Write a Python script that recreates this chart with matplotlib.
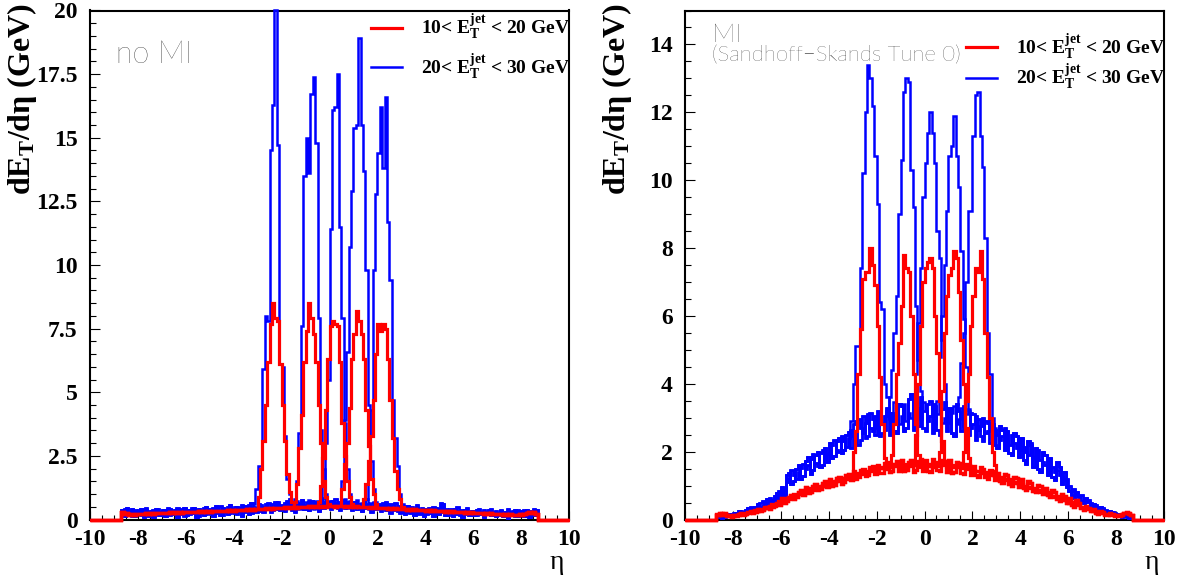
import numpy as np
import matplotlib
matplotlib.use('Agg')
import matplotlib.pyplot as plt
from matplotlib.lines import Line2D
from matplotlib.ticker import MultipleLocator, FormatStrFormatter

plt.rcParams['font.family'] = 'Liberation Serif'
plt.rcParams['font.weight'] = 'bold'
plt.rcParams['mathtext.fontset'] = 'custom'
plt.rcParams['mathtext.rm'] = 'Liberation Serif:bold'
plt.rcParams['mathtext.bf'] = 'Liberation Serif:bold'
plt.rcParams['mathtext.it'] = 'Liberation Serif:italic:bold'
plt.rcParams['axes.unicode_minus'] = False

# 200 bins of 0.1 in eta, filled between -8.7 and 8.7
eta_edges = np.linspace(-10, 10, 201)

# ---------------- no MI ----------------
# underlying level, bins -8.7 ... 8.6
nomi_red_base = [
    0.30, 0.22, 0.26, 0.18, 0.22, 0.19, 0.21,
    0.20, 0.23, 0.21, 0.24, 0.22, 0.25, 0.23, 0.26, 0.24, 0.26,
    0.25, 0.27, 0.25, 0.28, 0.26, 0.28, 0.27, 0.29, 0.27, 0.30,
    0.28, 0.30, 0.29, 0.31, 0.29, 0.32, 0.30, 0.32, 0.31, 0.33,
    0.31, 0.34, 0.32, 0.35, 0.33, 0.35, 0.34, 0.36, 0.34, 0.37,
    0.35, 0.38, 0.36, 0.39, 0.37, 0.40, 0.38, 0.41, 0.39, 0.42,
    0.40, 0.43, 0.41, 0.44, 0.42, 0.45, 0.43, 0.46, 0.44, 0.46,
    0.45, 0.48, 0.46, 0.49, 0.47, 0.50, 0.47, 0.50, 0.48, 0.51,
    0.49, 0.52, 0.50, 0.53, 0.50, 0.53, 0.51, 0.54, 0.51, 0.53,
    0.52, 0.54, 0.51, 0.53, 0.52, 0.54, 0.50, 0.53, 0.51, 0.52,
    0.50, 0.52, 0.49, 0.51, 0.48, 0.50, 0.47, 0.49, 0.46, 0.48,
    0.45, 0.47, 0.44, 0.46, 0.43, 0.45, 0.42, 0.44, 0.41, 0.43,
    0.40, 0.42, 0.39, 0.41, 0.38, 0.40, 0.37, 0.39, 0.36, 0.38,
    0.35, 0.37, 0.34, 0.36, 0.33, 0.35, 0.32, 0.34, 0.31, 0.33,
    0.30, 0.32, 0.29, 0.31, 0.28, 0.30, 0.27, 0.29, 0.26, 0.28,
    0.25, 0.27, 0.24, 0.26, 0.23, 0.25, 0.22, 0.24, 0.21, 0.23,
    0.20, 0.22, 0.19, 0.21, 0.18, 0.20, 0.17, 0.19, 0.18, 0.20,
    0.19, 0.22, 0.26, 0.30, 0.24, 0.28, 0.20,
]
nomi_blue_base = [
    0.38, 0.15, 0.44, 0.22, 0.40, 0.12, 0.35,
    0.20, 0.42, 0.10, 0.36, 0.24, 0.32, 0.08, 0.40, 0.26, 0.18,
    0.36, 0.14, 0.30, 0.42, 0.20, 0.38, 0.10, 0.34, 0.28, 0.44,
    0.16, 0.36, 0.26, 0.46, 0.08, 0.40, 0.30, 0.18, 0.48, 0.24,
    0.38, 0.12, 0.52, 0.30, 0.16, 0.44, 0.34, 0.20, 0.58, 0.28,
    0.26, 0.50, 0.34, 0.12, 0.54, 0.40, 0.22, 0.64, 0.32, 0.46,
    0.40, 0.56, 0.28, 0.62, 0.45, 0.30, 0.60, 0.42, 0.68, 0.36,
    0.52, 0.34, 0.72, 0.44, 0.62, 0.30, 0.66, 0.48, 0.76, 0.40,
    0.58, 0.38, 0.74, 0.46, 0.64, 0.32, 0.82, 0.44, 0.68, 0.50,
    0.42, 0.72, 0.48, 0.64, 0.36, 0.78, 0.44, 0.68, 0.52, 0.38,
    0.70, 0.42, 0.60, 0.34, 0.74, 0.46, 0.62, 0.30, 0.56, 0.40,
    0.50, 0.32, 0.64, 0.38, 0.48, 0.26, 0.58, 0.36, 0.44, 0.24,
    0.42, 0.20, 0.52, 0.30, 0.38, 0.16, 0.46, 0.28, 0.36, 0.14,
    0.40, 0.24, 0.34, 0.12, 0.46, 0.22, 0.32, 0.62, 0.18, 0.30,
    0.30, 0.14, 0.42, 0.22, 0.34, 0.10, 0.38, 0.24, 0.16, 0.32,
    0.18, 0.36, 0.22, 0.30, 0.08, 0.28, 0.38, 0.16, 0.30, 0.12,
    0.26, 0.34, 0.14, 0.28, 0.06, 0.30, 0.18, 0.36, 0.12, 0.24,
    0.32, 0.14, 0.38, 0.10, 0.30, 0.16, 0.36,
]
nomi_blue_base_b = [
    0.22, 0.40, 0.18, 0.30, 0.14, 0.36, 0.26,
    0.38, 0.16, 0.30, 0.44, 0.12, 0.28, 0.36, 0.18, 0.42, 0.30,
    0.20, 0.38, 0.46, 0.16, 0.32, 0.24, 0.44, 0.20, 0.40, 0.14,
    0.34, 0.22, 0.44, 0.30, 0.38, 0.14, 0.26, 0.46, 0.22, 0.40,
    0.20, 0.46, 0.26, 0.40, 0.54, 0.18, 0.30, 0.50, 0.24, 0.42,
    0.48, 0.20, 0.44, 0.56, 0.28, 0.36, 0.58, 0.26, 0.50, 0.30,
    0.62, 0.34, 0.50, 0.40, 0.66, 0.52, 0.36, 0.70, 0.48, 0.58,
    0.40, 0.66, 0.50, 0.80, 0.38, 0.56, 0.74, 0.42, 0.60, 0.70,
    0.46, 0.78, 0.54, 0.40, 0.72, 0.60, 0.48, 0.86, 0.52, 0.64,
    0.74, 0.50, 0.82, 0.44, 0.70, 0.56, 0.80, 0.46, 0.74, 0.60,
    0.48, 0.76, 0.44, 0.66, 0.52, 0.80, 0.40, 0.64, 0.70, 0.46,
    0.62, 0.44, 0.52, 0.70, 0.36, 0.60, 0.46, 0.64, 0.34, 0.52,
    0.30, 0.54, 0.40, 0.26, 0.50, 0.36, 0.56, 0.22, 0.44, 0.38,
    0.22, 0.44, 0.30, 0.50, 0.20, 0.40, 0.64, 0.28, 0.42, 0.18,
    0.40, 0.26, 0.32, 0.48, 0.16, 0.36, 0.20, 0.44, 0.30, 0.22,
    0.34, 0.16, 0.40, 0.26, 0.36, 0.20, 0.30, 0.42, 0.18, 0.34,
    0.16, 0.38, 0.26, 0.20, 0.40, 0.18, 0.32, 0.14, 0.36, 0.28,
    0.20, 0.38, 0.16, 0.34, 0.22, 0.40, 0.18,
]
# jet peaks: first bin low edge and bin contents
nomi_red_starts = [-3.0, -1.5, -0.5, 0.5, 1.4]
nomi_red_peaks = [
    [0.9, 2.0, 3.1, 4.5, 6.2, 7.7, 8.5, 7.9, 7.8, 6.1, 4.5, 3.1, 1.8, 1.1, 0.7, 0.5],
    [0.7, 1.4, 2.8, 4.1, 6.2, 7.4, 8.5, 7.9, 7.3, 6.2, 4.5, 3.0, 1.5, 0.9, 0.6],
    [0.7, 1.3, 2.4, 4.3, 6.3, 7.6, 7.8, 7.7, 7.6, 6.2, 3.8, 2.5, 1.5, 0.9, 0.6],
    [1.2, 2.2, 3.0, 4.4, 6.3, 7.3, 8.2, 7.8, 7.3, 6.3, 4.3, 2.9, 1.6, 1.0, 0.6],
    [0.8, 1.4, 2.3, 3.3, 4.7, 6.5, 7.7, 7.4, 7.7, 7.5, 6.3, 4.7, 3.2, 1.9, 1.2, 0.8, 0.5],
]
nomi_blue_starts = [-3.2, -1.5, -0.4, 0.5, 1.5]
nomi_blue_peaks = [
    [0.6, 1.2, 2.1, 2.1, 5.9, 8.0, 7.8, 14.5, 16.3, 20.0, 14.7, 6.1, 6.0, 3.3, 1.6, 1.0, 0.7, 0.5],
    [0.8, 1.5, 3.4, 7.6, 13.5, 15.0, 13.6, 16.7, 17.4, 14.8, 7.9, 3.5, 2.0, 1.0, 0.7],
    [0.8, 1.5, 3.0, 5.5, 11.4, 16.1, 16.2, 17.5, 11.5, 7.9, 3.8, 2.0, 1.0, 0.6],
    [1.5, 3.9, 6.6, 10.7, 12.9, 15.4, 15.5, 18.9, 15.5, 13.7, 9.8, 4.5, 2.3, 1.2, 0.7],
    [0.8, 1.6, 4.3, 9.8, 12.8, 14.4, 16.2, 13.8, 16.6, 11.7, 9.4, 4.7, 3.2, 2.1, 1.0, 0.6],
]

# ---------------- MI ----------------
mi_red_base = [
    0.12, 0.18, 0.14, 0.20, 0.12, 0.10, 0.08,
    0.12, 0.10, 0.15, 0.18, 0.13, 0.15, 0.21, 0.25, 0.18, 0.21,
    0.30, 0.24, 0.28, 0.34, 0.38, 0.32, 0.36, 0.44, 0.50, 0.42,
    0.62, 0.48, 0.54, 0.66, 0.72, 0.60, 0.66, 0.80, 0.86, 0.72,
    0.95, 0.78, 0.82, 0.98, 1.04, 0.86, 0.90, 1.08, 1.12, 0.95,
    1.18, 0.98, 1.02, 1.22, 1.26, 1.06, 1.10, 1.30, 1.34, 1.15,
    1.42, 1.20, 1.24, 1.46, 1.50, 1.28, 1.30, 1.55, 1.58, 1.34,
    1.62, 1.36, 1.38, 1.66, 1.70, 1.40, 1.42, 1.65, 1.72, 1.44,
    1.74, 1.42, 1.45, 1.70, 1.76, 1.40, 1.46, 1.72, 1.78, 1.44,
    1.75, 1.42, 1.40, 1.78, 1.70, 1.45, 1.42, 1.74, 1.72, 1.40,
    1.74, 1.38, 1.40, 1.70, 1.66, 1.36, 1.34, 1.64, 1.62, 1.32,
    1.58, 1.30, 1.26, 1.55, 1.50, 1.24, 1.20, 1.46, 1.42, 1.16,
    1.38, 1.12, 1.08, 1.34, 1.30, 1.04, 1.00, 1.26, 1.22, 0.96,
    1.18, 0.92, 0.88, 1.14, 1.08, 0.84, 0.80, 1.02, 0.98, 0.76,
    0.94, 0.72, 0.66, 0.88, 0.82, 0.60, 0.54, 0.76, 0.70, 0.48,
    0.64, 0.44, 0.38, 0.56, 0.48, 0.33, 0.28, 0.40, 0.34, 0.24,
    0.30, 0.20, 0.17, 0.26, 0.22, 0.14, 0.12, 0.18, 0.15, 0.10,
    0.12, 0.10, 0.14, 0.18, 0.22, 0.18, 0.14,
]
mi_red_base_b = [
    0.16, 0.12, 0.18, 0.15, 0.10, 0.13, 0.10,
    0.10, 0.14, 0.12, 0.16, 0.17, 0.20, 0.18, 0.22, 0.24, 0.27,
    0.26, 0.32, 0.30, 0.36, 0.34, 0.40, 0.46, 0.40, 0.46, 0.55,
    0.52, 0.58, 0.64, 0.60, 0.66, 0.74, 0.70, 0.76, 0.78, 0.84,
    0.84, 0.90, 0.92, 0.88, 0.96, 1.00, 0.96, 1.02, 1.00, 1.06,
    1.06, 1.12, 1.10, 1.16, 1.12, 1.20, 1.22, 1.18, 1.24, 1.28,
    1.30, 1.32, 1.36, 1.34, 1.40, 1.42, 1.38, 1.44, 1.46, 1.48,
    1.48, 1.52, 1.56, 1.50, 1.56, 1.60, 1.54, 1.58, 1.62, 1.56,
    1.60, 1.64, 1.56, 1.62, 1.58, 1.66, 1.60, 1.56, 1.64, 1.60,
    1.62, 1.58, 1.64, 1.56, 1.62, 1.66, 1.58, 1.60, 1.64, 1.56,
    1.60, 1.56, 1.62, 1.54, 1.58, 1.52, 1.56, 1.50, 1.52, 1.48,
    1.46, 1.44, 1.42, 1.40, 1.38, 1.40, 1.34, 1.32, 1.34, 1.28,
    1.26, 1.24, 1.22, 1.20, 1.16, 1.18, 1.12, 1.10, 1.08, 1.06,
    1.04, 1.00, 0.98, 0.96, 0.92, 0.94, 0.88, 0.86, 0.82, 0.80,
    0.78, 0.80, 0.72, 0.70, 0.66, 0.68, 0.62, 0.60, 0.56, 0.54,
    0.50, 0.52, 0.46, 0.42, 0.44, 0.38, 0.36, 0.34, 0.30, 0.28,
    0.26, 0.24, 0.22, 0.20, 0.19, 0.17, 0.16, 0.14, 0.13, 0.12,
    0.12, 0.13, 0.16, 0.20, 0.18, 0.15, 0.12,
]
mi_blue_base = [
    0.08, 0.12, 0.05, 0.10, 0.14, 0.09, 0.16,
    0.13, 0.20, 0.24, 0.16, 0.19, 0.28, 0.33, 0.23, 0.27, 0.38,
    0.46, 0.35, 0.40, 0.52, 0.60, 0.45, 0.52, 0.68, 0.78, 0.60,
    0.95, 0.72, 1.30, 1.38, 1.05, 1.12, 1.48, 1.60, 1.20, 1.28,
    1.72, 1.85, 1.35, 1.45, 1.90, 2.00, 1.55, 1.62, 2.10, 1.70,
    2.25, 1.80, 1.88, 2.30, 2.40, 1.95, 2.05, 2.50, 2.58, 2.10,
    2.80, 2.90, 2.20, 2.35, 3.05, 2.40, 2.45, 3.15, 2.95, 2.50,
    3.20, 2.45, 2.55, 3.05, 3.30, 2.50, 3.15, 2.60, 2.55, 3.40,
    3.35, 2.60, 2.70, 3.55, 3.70, 2.65, 3.45, 2.75, 3.60, 2.70,
    2.60, 3.40, 3.50, 2.55, 3.35, 2.65, 2.50, 3.25, 3.45, 2.60,
    3.30, 2.55, 2.45, 3.40, 3.20, 2.60, 3.35, 2.40, 2.50, 3.15,
    3.10, 2.35, 2.95, 2.45, 2.30, 2.90, 2.85, 2.25, 2.80, 2.20,
    2.10, 2.75, 2.65, 2.05, 2.60, 1.95, 1.90, 2.55, 2.45, 1.85,
    2.40, 1.75, 1.65, 2.30, 2.20, 1.55, 2.10, 1.50, 1.40, 2.00,
    1.90, 1.30, 1.80, 1.25, 1.15, 1.70, 1.55, 1.05, 1.40, 0.95,
    0.85, 0.72, 0.62, 0.80, 0.70, 0.55, 0.48, 0.62, 0.52, 0.42,
    0.45, 0.33, 0.28, 0.38, 0.32, 0.24, 0.19, 0.26, 0.22, 0.15,
    0.16, 0.10, 0.07, 0.13, 0.11, 0.05, 0.08,
]
mi_blue_base_b = [
    0.12, 0.06, 0.14, 0.08, 0.10, 0.16, 0.12,
    0.18, 0.14, 0.17, 0.26, 0.22, 0.20, 0.25, 0.36, 0.30, 0.28,
    0.38, 0.48, 0.55, 0.42, 0.48, 0.62, 0.58, 0.55, 0.70, 0.85,
    0.78, 0.88, 1.10, 1.22, 1.45, 1.30, 1.18, 1.40, 1.52, 1.65,
    1.48, 1.60, 1.78, 1.92, 1.66, 1.58, 1.95, 2.05, 1.75, 1.92,
    1.95, 2.20, 2.35, 2.05, 2.00, 2.45, 2.30, 2.15, 2.40, 2.65,
    2.45, 2.60, 2.95, 2.70, 2.55, 2.85, 3.10, 2.70, 2.60, 3.05,
    2.70, 3.10, 2.85, 2.65, 3.20, 2.95, 2.75, 3.45, 3.00, 2.80,
    3.05, 3.40, 2.90, 3.15, 3.00, 3.50, 2.85, 3.30, 2.95, 3.45,
    3.20, 2.90, 3.05, 3.40, 2.80, 3.10, 3.55, 2.85, 3.00, 3.30,
    2.85, 3.15, 3.35, 2.80, 2.95, 3.30, 2.75, 3.10, 3.25, 2.70,
    2.80, 3.05, 2.65, 2.75, 3.00, 2.55, 2.60, 2.95, 2.50, 2.65,
    2.50, 2.35, 2.45, 2.70, 2.30, 2.20, 2.50, 2.25, 2.10, 2.35,
    2.05, 2.15, 2.00, 1.90, 2.25, 1.85, 1.80, 2.05, 1.75, 1.70,
    1.60, 1.65, 1.50, 1.55, 1.40, 1.45, 1.30, 1.25, 1.15, 1.20,
    1.00, 0.82, 0.90, 0.75, 0.66, 0.72, 0.60, 0.55, 0.58, 0.48,
    0.38, 0.42, 0.36, 0.30, 0.34, 0.28, 0.24, 0.22, 0.18, 0.20,
    0.12, 0.14, 0.10, 0.09, 0.06, 0.10, 0.05,
]
mi_red_starts = [-3.0, -1.5, -0.5, 0.5, 1.5]
mi_red_peaks = [
    [2.0, 2.6, 4.3, 5.6, 7.1, 7.3, 7.3, 8.0, 7.5, 6.9, 5.7, 4.2, 2.8, 1.8, 1.6],
    [1.6, 1.9, 2.8, 4.3, 5.2, 6.3, 7.8, 7.4, 7.3, 6.0, 4.3, 2.8, 1.9, 1.6],
    [1.6, 2.5, 4.0, 5.7, 7.0, 7.4, 7.6, 7.7, 7.4, 6.0, 4.9, 3.5, 2.3, 1.7],
    [1.6, 2.0, 3.8, 5.5, 6.6, 7.2, 7.4, 7.9, 7.7, 6.7, 5.3, 4.0, 2.7, 1.8, 1.5],
    [1.6, 2.0, 3.5, 4.3, 5.7, 6.6, 7.4, 7.3, 7.9, 7.1, 5.5, 4.2, 3.0, 2.0, 1.6],
]
mi_blue_starts = [-3.1, -1.5, -0.5, 0.4, 1.4]
mi_blue_peaks = [
    [2.9, 4.0, 5.1, 5.1, 7.4, 10.2, 12.0, 13.4, 13.0, 12.2, 10.7, 9.3, 6.4, 6.2, 4.0, 3.6, 3.0],
    [3.6, 4.4, 5.5, 6.6, 9.0, 10.6, 12.6, 13.0, 12.9, 10.3, 9.2, 6.3, 4.7, 3.8, 3.2],
    [3.5, 4.3, 5.8, 7.4, 9.5, 10.5, 11.4, 12.0, 11.4, 10.5, 8.5, 7.7, 5.3, 4.0, 3.2],
    [3.0, 3.5, 4.8, 6.0, 7.5, 9.1, 10.7, 11.0, 11.9, 10.7, 9.8, 7.9, 5.9, 4.5, 3.2],
    [3.6, 4.6, 5.5, 7.0, 9.1, 9.1, 11.3, 12.5, 12.6, 11.3, 10.4, 8.3, 5.5, 4.3, 3.0, 2.7],
]

legend_labels = ['10< E$_\\mathbf{T}^\\mathbf{jet}$ < 20 GeV',
                 '20< E$_\\mathbf{T}^\\mathbf{jet}$ < 30 GeV']


def build(base, start, peak):
    h = np.zeros(200)
    h[13:187] = base
    i0 = int(round((start + 10) * 10))
    h[i0:i0 + len(peak)] = peak
    return h


def draw_panel(ax, red_bases, red_starts, red_peaks, blue_bases, blue_starts, blue_peaks,
               ymax, ymajor, leg_y, leg_space):
    for b, s, p in zip(blue_bases, blue_starts, blue_peaks):
        ax.stairs(build(b, s, p), eta_edges, color='blue', lw=1.8,
                  baseline=None, clip_on=False, zorder=3)
    for b, s, p in zip(red_bases, red_starts, red_peaks):
        ax.stairs(build(b, s, p), eta_edges, color='red', lw=2.3,
                  baseline=None, clip_on=False, zorder=4)
    ax.set_xlim(-10, 10)
    ax.set_ylim(0, ymax)
    ax.xaxis.set_major_locator(MultipleLocator(2))
    ax.xaxis.set_minor_locator(MultipleLocator(0.5))
    ax.yaxis.set_major_locator(MultipleLocator(ymajor))
    ax.yaxis.set_minor_locator(MultipleLocator(0.5))
    ax.xaxis.set_major_formatter(FormatStrFormatter('%g'))
    ax.yaxis.set_major_formatter(FormatStrFormatter('%g'))
    ax.tick_params(which='both', direction='in', top=False, right=False, width=0.8, labelsize=17)
    ax.tick_params(axis='y', which='major', length=7.2, pad=9)
    ax.tick_params(axis='y', which='minor', length=4.3)
    ax.tick_params(axis='x', which='major', length=6.5, pad=7)
    ax.tick_params(axis='x', which='minor', length=3.5)
    for sp in ax.spines.values():
        sp.set_linewidth(1.5)
    ax.text(-0.141, 1.015, 'dE$_\\mathbf{T}$/dη (GeV)', transform=ax.transAxes,
            rotation=90, ha='center', va='top', fontsize=23)
    ax.text(0.99, -0.098, 'η', transform=ax.transAxes, ha='right', va='baseline',
            fontsize=20, fontweight='normal')
    handles = [Line2D([], [], color='red', lw=2.3), Line2D([], [], color='blue', lw=1.8)]
    ax.legend(handles, legend_labels, loc='upper left', bbox_to_anchor=(0.587, leg_y),
              frameon=False, handlelength=1.6, handletextpad=0.95, labelspacing=leg_space,
              borderpad=0, borderaxespad=0, prop={'size': 14, 'weight': 'bold'})


fig = plt.figure(figsize=(11.96, 5.76), dpi=100)
ax1 = fig.add_axes([90 / 1196, 56.5 / 576, 479 / 1196, 509 / 576])
ax2 = fig.add_axes([685 / 1196, 56.5 / 576, 479 / 1196, 509 / 576])

draw_panel(ax1, [nomi_red_base] * 5, nomi_red_starts, nomi_red_peaks,
           [nomi_blue_base, nomi_blue_base_b, nomi_blue_base, nomi_blue_base_b, nomi_blue_base],
           nomi_blue_starts, nomi_blue_peaks, 20, 2.5, 0.996, 0.55)
draw_panel(ax2, [mi_red_base, mi_red_base_b, mi_red_base, mi_red_base_b, mi_red_base],
           mi_red_starts, mi_red_peaks,
           [mi_blue_base, mi_blue_base_b, mi_blue_base, mi_blue_base_b, mi_blue_base],
           mi_blue_starts, mi_blue_peaks, 15, 2, 0.957, 0.05)

ax1.text(0.054, 0.897, 'no MI', transform=ax1.transAxes, family='Lato',
         fontweight='light', fontsize=22, va='baseline')
ax2.text(0.056, 0.938, 'MI', transform=ax2.transAxes, family='Lato',
         fontweight='light', fontsize=19, va='baseline')
ax2.text(0.056, 0.900, '(Sandhoff\u2212Skands Tune 0)', transform=ax2.transAxes,
         family='Lato', fontweight='light', fontsize=16, va='baseline')

fig.savefig('out.png', dpi=100)
